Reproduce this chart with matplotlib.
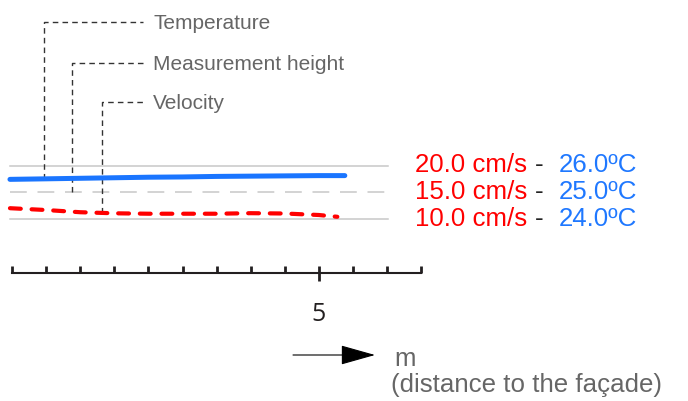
import matplotlib
matplotlib.use("Agg")
import matplotlib.pyplot as plt
import numpy as np
from matplotlib import transforms
from matplotlib.patches import FancyArrowPatch

plt.rcParams['font.family'] = ['Liberation Sans', 'DejaVu Sans']

# data
dist_temp = [0.47, 1.0, 1.5, 2.0, 2.5, 3.0, 3.5, 4.0, 4.5, 5.0, 5.38]
temperature = [25.49, 25.51, 25.53, 25.55, 25.57, 25.58, 25.60, 25.61, 25.62, 25.63, 25.63]
dist_vel = [0.47, 1.0, 1.5, 2.0, 2.5, 3.0, 3.5, 4.0, 4.5, 5.0, 5.27]
velocity = [12.07, 11.73, 11.32, 11.12, 11.04, 11.04, 11.04, 11.14, 11.08, 10.80, 10.47]

vel_levels = [20.0, 15.0, 10.0]
temp_levels = [26.0, 25.0, 24.0]
level_span = [0.47, 6.01]
probe_names = ['Temperature', 'Measurement height', 'Velocity']
probe_dist = [0.97, 1.375, 1.815]
scale_ticks = np.arange(0.5, 6.51, 0.5)
scale_labels = {5.0: '5'}

W, H = 688, 401
fig = plt.figure(figsize=(W / 100, H / 100), dpi=100)

# axes: bottom spine is the scale bar (pixel y = 272.7)
ax = fig.add_axes([0, 1 - 272.7 / H, 1, 272.7 / H])
ax.set_xlim(0.324, 10.412)
ax.set_ylim(0.037, 50.914)
axt = ax.twinx()
axt.set_ylim(22.007, 32.183)
for a in (ax, axt):
    for s in ('top', 'left', 'right'):
        a.spines[s].set_visible(False)
    a.set_yticks([])
axt.spines['bottom'].set_visible(False)
axt.patch.set_visible(False)

# reference levels
for v, ls in zip(vel_levels, ['-', (0, (11, 7)), '-']):
    ax.plot(level_span, [v, v], color='#c8c8c8', lw=1.1, linestyle=ls, zorder=1)

# series
axt.plot(dist_temp, temperature, color='#1a75ff', lw=3.6, solid_capstyle='round', zorder=3)
ax.plot(dist_vel, velocity, color='#ff0000', lw=3, linestyle=(0, (2.6, 2.6)),
        dash_capstyle='round', zorder=3)

# leader lines to the probe positions
def px2data(x, y):
    return ax.transData.inverted().transform((x, H - y))

temp_as_vel = 10 + 5 * (np.interp(probe_dist[0], dist_temp, temperature) - 24)
ends = [temp_as_vel, vel_levels[1], np.interp(probe_dist[2], dist_vel, velocity)]
leader_y = [22, 63, 102]
for name, xd, yend, ly in zip(probe_names, probe_dist, ends, leader_y):
    xe, yt = px2data(143, ly)
    ax.plot([xd, xd, xe], [yend, yt, yt], color='#333333', lw=1,
            linestyle=(0, (4, 3)), zorder=2)
    fig.text(153 / W, 1 - (ly + 7.3) / H, name, color='#666666', fontsize=15,
             va='baseline', ha='left')

# right side labels
blend = transforms.blended_transform_factory(fig.transFigure, ax.transData)
trans = transforms.offset_copy(blend, fig=fig, y=-6.8, units='dots')
for v, t in zip(vel_levels, temp_levels):
    ax.text(415 / W, v, f'{v:.1f} cm/s', color='#ff0000', fontsize=18.6,
            transform=trans, va='baseline', ha='left')
    ax.text(535 / W, v, '-', color='#222222', fontsize=18.6,
            transform=trans, va='baseline', ha='left')
    ax.text(559 / W, v, f'{t:.1f}ºC', color='#1f78ff', fontsize=18.6,
            transform=trans, va='baseline', ha='left')

# scale bar
sp = ax.spines['bottom']
sp.set_bounds(scale_ticks[0], scale_ticks[-1])
sp.set_linewidth(1.5)
sp.set_color('#231f20')
major = list(scale_labels.keys())
ax.set_xticks(major)
ax.set_xticklabels([scale_labels[k] for k in major], fontfamily='Open Sans')
ax.set_xticks([t for t in scale_ticks if t not in major], minor=True)
ax.tick_params(axis='x', which='minor', direction='in', length=5, width=2,
               color='#231f20')
ax.tick_params(axis='x', which='major', direction='inout', length=10.8, width=2,
               color='#231f20', labelsize=18, pad=15.7, labelcolor='#231f20')

# axis caption with arrow
arrow = FancyArrowPatch((293 / W, 1 - 355 / H), (375 / W, 1 - 355 / H),
                        transform=fig.transFigure,
                        arrowstyle='-|>,head_length=2.2,head_width=0.62',
                        mutation_scale=10, color='black', lw=0.8,
                        shrinkA=0, shrinkB=0)
fig.add_artist(arrow)
fig.text(394 / W, 1 - 366 / H, 'm', color='#666666', fontsize=18.6, va='baseline')
fig.text(391 / W, 1 - 391.7 / H, '(distance to the façade)', color='#666666',
         fontsize=18.6, va='baseline')

fig.savefig('out.png', dpi=100)
